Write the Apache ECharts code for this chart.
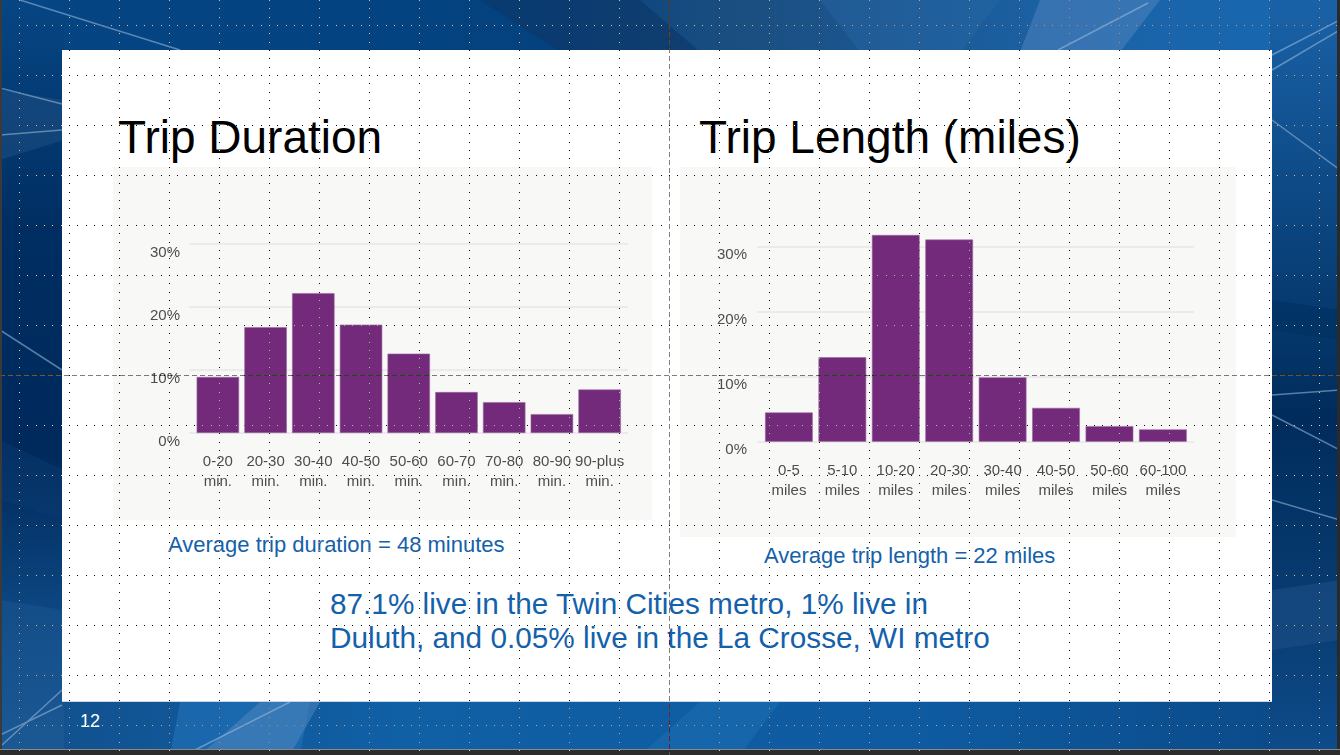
<!DOCTYPE html>
<html>
<head>
<meta charset="utf-8">
<script src="https://cdn.jsdelivr.net/npm/echarts@6/dist/echarts.min.js"></script>
<style>
  html, body { margin: 0; padding: 0; width: 1340px; height: 755px; overflow: hidden; background: #2e2e2e; }
  #stage { position: absolute; left: 0; top: 0; width: 1340px; height: 755px; }
  .abs { position: absolute; }
  .txt { position: absolute; font-family: "Liberation Sans", Arial, sans-serif; white-space: nowrap; line-height: 1; }
</style>
</head>
<body>
<div id="stage">
  <svg class="abs" style="left:0;top:0" width="1340" height="755" viewBox="0 0 1340 755">
    <defs>
      <linearGradient id="gBase" x1="0" y1="0" x2="1" y2="0">
        <stop offset="0" stop-color="#00275a"/>
        <stop offset="0.05" stop-color="#003670"/>
        <stop offset="0.5" stop-color="#0a4a88"/>
        <stop offset="0.95" stop-color="#0b4a8c"/>
        <stop offset="1" stop-color="#062f62"/>
      </linearGradient>
      <linearGradient id="gTop" x1="0" y1="0" x2="1" y2="0">
        <stop offset="0" stop-color="#054584"/>
        <stop offset="0.4" stop-color="#03427f"/>
        <stop offset="0.55" stop-color="#1b4e80"/>
        <stop offset="0.8" stop-color="#1b62a6"/>
        <stop offset="1" stop-color="#1668b2"/>
      </linearGradient>
      <linearGradient id="gBot" x1="0" y1="0" x2="1" y2="0">
        <stop offset="0" stop-color="#124f8c"/>
        <stop offset="0.3" stop-color="#1060a6"/>
        <stop offset="0.7" stop-color="#0e5aa0"/>
        <stop offset="1" stop-color="#0a4886"/>
      </linearGradient>
      <linearGradient id="gRight" x1="0" y1="0" x2="0" y2="1">
        <stop offset="0" stop-color="#1a62a8"/>
        <stop offset="0.25" stop-color="#0d4a86"/>
        <stop offset="0.55" stop-color="#002c5c"/>
        <stop offset="0.85" stop-color="#0a3f76"/>
        <stop offset="1" stop-color="#0d4c8c"/>
      </linearGradient>
      <linearGradient id="gLeft" x1="0" y1="0" x2="0" y2="1">
        <stop offset="0" stop-color="#064684"/>
        <stop offset="0.3" stop-color="#002e62"/>
        <stop offset="0.6" stop-color="#00295c"/>
        <stop offset="0.85" stop-color="#0f4c88"/>
        <stop offset="1" stop-color="#1a5c9a"/>
      </linearGradient>
    </defs>
    <rect x="0" y="0" width="1340" height="755" fill="url(#gBase)"/>
    <rect x="0" y="0" width="1340" height="52" fill="url(#gTop)"/>
    <rect x="0" y="700" width="1340" height="55" fill="url(#gBot)"/>
    <rect x="1270" y="0" width="70" height="755" fill="url(#gRight)"/>
    <rect x="0" y="0" width="64" height="755" fill="url(#gLeft)"/>
    <!-- facets -->
    <polygon points="480,0 640,0 700,52 560,52" fill="#0e3566" opacity="0.6"/>
    <polygon points="1040,0 1160,0 1120,52 1020,52" fill="#5b8ac0" opacity="0.45"/>
    <polygon points="820,0 1000,0 960,52 860,52" fill="#2a6aa8" opacity="0.35"/>
    <polygon points="0,90 64,100 64,140 0,160" fill="#1d4c80" opacity="0.6"/>
    <polygon points="0,440 64,470 64,520 0,500" fill="#0a3a70" opacity="0.5"/>
    <polygon points="0,600 64,610 64,755 0,755" fill="#1c5590" opacity="0.5"/>
    <polygon points="1272,300 1340,310 1340,340 1272,330" fill="#003060" opacity="0.6"/>
    <polygon points="1272,590 1340,580 1340,640 1272,650" fill="#1c4e86" opacity="0.6"/>
    <polygon points="180,702 310,702 300,755 170,755" fill="#1d6cb2" opacity="0.8"/>
    <polygon points="260,702 320,702 290,755 200,755" fill="#5a8cc2" opacity="0.45"/>
    <polygon points="700,702 780,702 740,755 640,755" fill="#1e70b6" opacity="0.5"/>
    <!-- light lines -->
    <g stroke="#9fbfe0" stroke-width="1.5" fill="none" opacity="0.55">
      <line x1="20" y1="0" x2="180" y2="50"/>
      <line x1="0" y1="88" x2="62" y2="104"/>
      <line x1="0" y1="135" x2="62" y2="130"/>
      <line x1="0" y1="330" x2="62" y2="370"/>
      <line x1="2" y1="745" x2="62" y2="690"/>
      <line x1="0" y1="735" x2="62" y2="705"/>
      <line x1="195" y1="750" x2="290" y2="702"/>
      <line x1="1058" y1="50" x2="1148" y2="3"/>
      <line x1="1272" y1="55" x2="1340" y2="20"/>
      <line x1="1272" y1="70" x2="1340" y2="30"/>
      <line x1="1272" y1="120" x2="1340" y2="170"/>
      <line x1="1272" y1="395" x2="1340" y2="390"/>
      <line x1="1272" y1="415" x2="1340" y2="450"/>
      <line x1="1272" y1="500" x2="1340" y2="520"/>
    </g>
    <!-- frame edges -->
    <rect x="0" y="0" width="2" height="755" fill="#3a3a3a"/>
    <rect x="1337" y="0" width="3" height="755" fill="#2a2a2a"/>
    <rect x="0" y="750" width="1340" height="5" fill="#2c2c2c"/>
    <rect x="0" y="749" width="1340" height="1" fill="#8a8a8a"/>
    <!-- white slide panel -->
    <rect x="62" y="50" width="1210" height="652" fill="#ffffff"/>
    <rect x="62" y="701" width="1210" height="1" fill="#c9d6e4"/>
    <!-- chart panels -->
    <rect x="113" y="167" width="539" height="353" fill="#f8f8f7"/>
    <rect x="680" y="167" width="556" height="370" fill="#f8f8f7"/>
  </svg>

  <div class="txt" style="left:118px;top:114px;font-size:46px;color:#000;">Trip Duration</div>
  <div class="txt" style="left:699px;top:114px;font-size:46px;color:#000;">Trip Length (miles)</div>
  <div class="txt" style="left:168px;top:534px;font-size:22px;color:#1461ab;">Average trip duration = 48 minutes</div>
  <div class="txt" style="left:764px;top:545px;font-size:22px;color:#1461ab;">Average trip length = 22 miles</div>
  <div class="txt" style="left:330px;top:587px;font-size:29.75px;color:#1461ab;line-height:34px;">87.1% live in the Twin Cities metro, 1% live in<br>Duluth, and 0.05% live in the La Crosse, WI metro</div>
  <div class="txt" style="left:80px;top:712px;font-size:18px;color:#ffffff;">12</div>

  <div id="chart" class="abs" style="left:0;top:0;width:1340px;height:755px;"></div>
  <canvas id="dots" class="abs" width="1340" height="755" style="left:0;top:0;mix-blend-mode:difference;pointer-events:none;"></canvas>
</div>

<script>
// ---- data ----
const durationCategories = ['0-20\nmin.', '20-30\nmin.', '30-40\nmin.', '40-50\nmin.', '50-60\nmin.', '60-70\nmin.', '70-80\nmin.', '80-90\nmin.', '90-plus\nmin.'];
const durationValues = [8.9, 16.8, 22.2, 17.2, 12.6, 6.5, 4.9, 3.0, 6.9];
const lengthCategories = ['0-5\nmiles', '5-10\nmiles', '10-20\nmiles', '20-30\nmiles', '30-40\nmiles', '40-50\nmiles', '50-60\nmiles', '60-100\nmiles'];
const lengthValues = [4.5, 13.0, 31.8, 31.1, 9.9, 5.2, 2.4, 1.9];
const percentTicks = [0, 10, 20, 30];

const FONT = '"Liberation Sans", Arial, sans-serif';
const BAR = '#732a7a';
const GRIDC = '#ebebeb';
const LABC = '#4d4d4d';

const chart = echarts.init(document.getElementById('chart'), null, { renderer: 'canvas' });

function bgY(idx, margin) {
  return {
    gridIndex: idx, type: 'value', min: percentTicks[0], max: percentTicks[percentTicks.length - 1], interval: 10,
    axisLine: { show: false }, axisTick: { show: false },
    splitLine: { show: true, lineStyle: { color: GRIDC, width: 2 } },
    axisLabel: { show: true, margin: margin, fontFamily: FONT, fontSize: 15, color: LABC,
      formatter: v => v + '%', verticalAlign: 'top', padding: [1, 0, 0, 0] }
  };
}
function dataY(idx) {
  return {
    gridIndex: idx, type: 'value', min: 0, max: 30, interval: 10,
    axisLine: { show: false }, axisTick: { show: false }, splitLine: { show: false }, axisLabel: { show: false }
  };
}
function bgX(idx) {
  return { gridIndex: idx, type: 'value', show: false, min: 0, max: 1 };
}
function catX(idx, cats, margin) {
  return {
    gridIndex: idx, type: 'category', data: cats,
    axisLine: { show: false }, axisTick: { show: false }, splitLine: { show: false },
    axisLabel: { interval: 0, margin: margin, fontFamily: FONT, fontSize: 15, color: LABC, lineHeight: 20 }
  };
}

chart.setOption({
  animation: false,
  grid: [
    { left: 189, right: 1340 - 628, top: 244, bottom: 755 - 433 },          // 0: duration background
    { left: 194, right: 1340 - 623.5, top: 244, bottom: 755 - 433 },        // 1: duration bars
    { left: 757, right: 1340 - 1194, top: 246.7, bottom: 755 - 441.7 },     // 2: length background
    { left: 762.2, right: 1340 - 1189.6, top: 246.7, bottom: 755 - 441.7 }  // 3: length bars
  ],
  xAxis: [bgX(0), catX(1, durationCategories, 19), bgX(2), catX(3, lengthCategories, 19)],
  yAxis: [bgY(0, 9), dataY(1), bgY(2, 10), dataY(3)],
  series: [
    { type: 'bar', xAxisIndex: 1, yAxisIndex: 1, data: durationValues, barCategoryGap: '11%', clip: false,
      itemStyle: { color: BAR, borderColor: '#9a6aa0', borderWidth: 0.6 } },
    { type: 'bar', xAxisIndex: 3, yAxisIndex: 3, data: lengthValues, barCategoryGap: '10.7%', clip: false,
      itemStyle: { color: BAR, borderColor: '#9a6aa0', borderWidth: 0.6 } }
  ]
});

// ---- PowerPoint-style guide grid overlay (decoration) ----
(function () {
  const c = document.getElementById('dots');
  const ctx = c.getContext('2d');
  ctx.fillStyle = '#ffffff';
  const step = 50 / 6;
  for (let x = 19; x <= 1340; x += 50) {
    if (x === 669) continue;
    for (let y = 0; y < 755; y += step) ctx.fillRect(x, Math.round(y), 1, 1);
  }
  for (let y = 25; y <= 755; y += 50) {
    if (y === 375) continue;
    for (let x = 19; x < 1340; x += step) ctx.fillRect(Math.round(x), y, 1, 1);
  }
  ctx.fillStyle = '#808080';
  for (let y = 0; y < 755; y += 8) ctx.fillRect(669, y, 1, 5);
  for (let x = 0; x < 1340; x += 8) ctx.fillRect(x, 375, 5, 1);
})();
</script>
</body>
</html>
